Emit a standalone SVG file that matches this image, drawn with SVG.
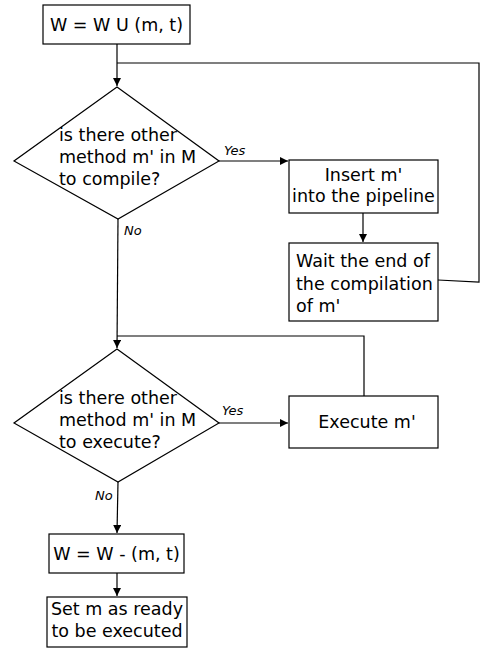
<svg xmlns="http://www.w3.org/2000/svg" width="481" height="652" viewBox="0 0 481 652">
<style>
.box{fill:#fff;stroke:#000;stroke-width:1.2}
.ln{fill:none;stroke:#000;stroke-width:1.2}
text{font-family:"DejaVu Sans",sans-serif;font-size:17.5px;fill:#000}
.lab{font-size:13px;font-style:italic}
.c{text-anchor:middle}
</style>
<defs>
<marker id="ah" markerWidth="10" markerHeight="10" refX="8" refY="4" orient="auto" markerUnits="userSpaceOnUse">
<path d="M0,0 L8,4 L0,8 Z" fill="#000"/>
</marker>
</defs>
<rect width="481" height="652" fill="#fff"/>
<g id="connectors">
<path class="ln" d="M117,44 L117,86" marker-end="url(#ah)"/>
<path class="ln" d="M117,63 L479,63 L479,282 L438,280"/>
<path class="ln" d="M219,161 L288,161" marker-end="url(#ah)"/>
<path class="ln" d="M363,213 L363,242" marker-end="url(#ah)"/>
<path class="ln" d="M118,219 L117,348" marker-end="url(#ah)"/>
<path class="ln" d="M117,336 L364,336 L364,396"/>
<path class="ln" d="M219,423 L288,423" marker-end="url(#ah)"/>
<path class="ln" d="M118,482 L117,533" marker-end="url(#ah)"/>
<path class="ln" d="M117,573 L117,596" marker-end="url(#ah)"/>
<text class="lab" x="224" y="155">Yes</text>
<text class="lab" x="124" y="235">No</text>
<text class="lab" x="222" y="415">Yes</text>
<text class="lab" x="95" y="500">No</text>
</g>
<g id="n1"><rect class="box" x="43" y="5" width="147" height="39"/><text class="c" x="116.5" y="31">W = W U (m, t)</text></g>
<g id="d1"><path class="box" d="M117,87 L219,161 L118,219 L14,161 Z"/>
<text x="59" y="141">is there other</text><text x="59" y="163">method m' in M</text><text x="59" y="185">to compile?</text></g>
<g id="n2"><rect class="box" x="289" y="160" width="149" height="53"/><text class="c" x="363.5" y="181">Insert m'</text><text class="c" x="363.5" y="202">into the pipeline</text></g>
<g id="n3"><rect class="box" x="289" y="243" width="149" height="78"/><text x="296" y="267">Wait the end of</text><text x="296" y="290">the compilation</text><text x="296" y="312">of m'</text></g>
<g id="d2"><path class="box" d="M117,349 L219,423 L118,482 L14,423 Z"/>
<text x="59" y="404">is there other</text><text x="59" y="426">method m' in M</text><text x="59" y="448">to execute?</text></g>
<g id="n4"><rect class="box" x="289" y="396" width="149" height="52"/><text class="c" x="367" y="428">Execute m'</text></g>
<g id="n5"><rect class="box" x="49" y="534" width="135" height="39"/><text class="c" x="116.5" y="560">W = W - (m, t)</text></g>
<g id="n6"><rect class="box" x="47" y="597" width="140" height="50"/><text class="c" x="117" y="615">Set m as ready</text><text class="c" x="117" y="637">to be executed</text></g>
</svg>
